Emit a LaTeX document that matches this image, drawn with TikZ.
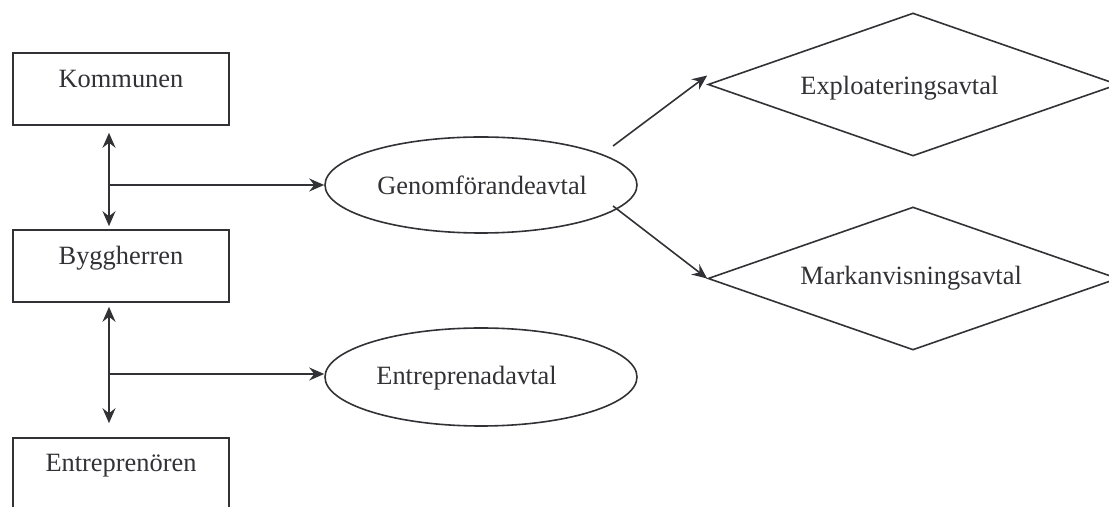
\documentclass[tikz,border=0pt]{standalone}
\usepackage{fontspec}
\setmainfont{Liberation Serif}
\usetikzlibrary{shapes.geometric,arrows.meta,calc}
\definecolor{ink}{RGB}{50,50,54}
\begin{document}
\begin{tikzpicture}[x=0.5pt,y=-0.5pt,
  font=\fontsize{13.2}{16}\selectfont,
  >={Stealth[length=7.5pt,width=6.5pt,inset=2.5pt]},
  every node/.style={inner sep=0pt, text=ink},
  party/.style={draw=ink, line width=0.8pt, minimum width=108pt, minimum height=36pt},
  deal/.style={ellipse, draw=ink, line width=0.8pt, minimum width=156pt, minimum height=48pt},
  kind/.style={diamond, draw=ink, line width=0.8pt, minimum width=205pt, minimum height=71.5pt},
  lbl/.style={anchor=base},
  lblw/.style={anchor=base west},
  arr/.style={draw=ink, line width=0.8pt, ->},
  biarr/.style={draw=ink, line width=0.8pt, <->}]
\useasboundingbox (0,0) rectangle (1109,507);
\clip (0,0) rectangle (1109,507);

% parties
\node[party] (kom) at (121,89) {};
\node[lbl] (kom-t) at (121,88) {Kommunen};
\node[party] (byg) at (121,266) {};
\node[lbl] (byg-t) at (121,265) {Byggherren};
\node[party] (ent) at (121,474) {};
\node[lbl] (ent-t) at (121,472) {Entreprenören};

% agreements
\node[deal] (gen) at (481,185) {};
\node[lblw] (gen-t) at (377,195) {Genomförandeavtal};
\node[deal, minimum height=49pt] (epa) at (481,377) {};
\node[lblw] (epa-t) at (376,385) {Entreprenadavtal};

\node[kind] (exp) at (913,84.5) {};
\node[lblw] (exp-t) at (800,95) {Exploateringsavtal};
\node[kind] (mark) at (913,278.5) {};
\node[lblw] (mark-t) at (800,285) {Markanvisningsavtal};

% connectors
\coordinate (j1) at (109,185);
\coordinate (j2) at (109,374);
\draw[biarr, shorten <=3.5pt, shorten >=1.5pt] (j1 |- kom.south) -- (j1 |- byg.north);
\draw[biarr, shorten <=2pt, shorten >=7pt] (j2 |- byg.south) -- (j2 |- ent.north);
\draw[arr] (j1) -- (gen.west);
\draw[arr] (j2) -- (j2 -| epa.west);
\draw[arr] ($(gen.center)+(132,-39)$) -- ($(exp.west)+(0,-9)$);
\draw[arr] ($(gen.center)+(132,21)$) -- (mark.west);
\end{tikzpicture}
\end{document}
